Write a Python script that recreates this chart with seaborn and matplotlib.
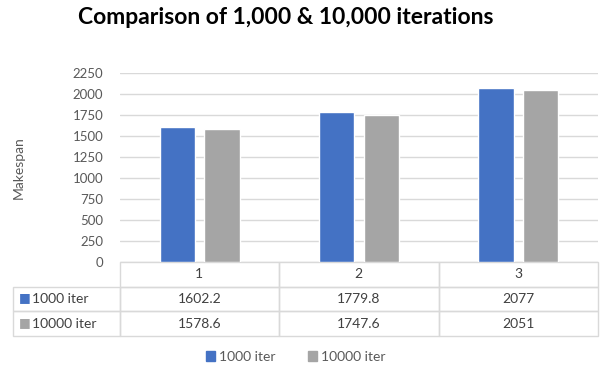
import matplotlib
matplotlib.use("Agg")
import pandas as pd
import seaborn as sns
from matplotlib import pyplot as plt
from matplotlib.patches import Patch
from matplotlib.table import Table

# data
runs = ["1", "2", "3"]
series = ["1000 iter", "10000 iter"]
iter_1000 = [1602.2, 1779.8, 2077]
iter_10000 = [1578.6, 1747.6, 2051]
yticks = [0, 250, 500, 750, 1000, 1250, 1500, 1750, 2000, 2250]

colors = ["#4472C4", "#A5A5A5"]
grid_c = "#D9D9D9"
text_c = "#595959"

sns.set_theme(style="white")
plt.rcParams["font.family"] = ["Lato", "DejaVu Sans"]

df = pd.DataFrame({
    "run": runs * 2,
    "series": [series[0]] * 3 + [series[1]] * 3,
    "makespan": iter_1000 + iter_10000,
})

fig = plt.figure(figsize=(6.01, 3.71), dpi=100)
ax = fig.add_axes([120 / 601, 1 - 262 / 371, 478 / 601, 189 / 371])

sns.barplot(data=df, x="run", y="makespan", hue="series", palette=colors,
            width=0.56, gap=0.21, legend=False, ax=ax, saturation=1)

ax.set_ylim(0, 2250)
ax.set_xlim(-0.5, 2.5)
ax.set_yticks(yticks)
ax.set_yticklabels([str(t) for t in yticks], color=text_c, fontsize=9.5)
ax.tick_params(axis="y", length=0, pad=12)
ax.set_xticks([])
ax.set_xlabel("")
ax.set_ylabel("Makespan", color=text_c, fontsize=10)
ax.yaxis.set_label_coords(-0.2, 0.5)
ax.grid(axis="y", color=grid_c, linewidth=1)
ax.set_axisbelow(True)
for s in ax.spines.values():
    s.set_visible(False)

# data table under the plot
tb = Table(ax, bbox=[-107 / 478, -74 / 189, 585 / 478, 74 / 189])
col_w = [107, 160, 160, 160]
rows = [[""] + runs,
        [series[0]] + [f"{v:g}" for v in iter_1000],
        [series[1]] + [f"{v:g}" for v in iter_10000]]
for r, row in enumerate(rows):
    for c, txt in enumerate(row):
        cell = tb.add_cell(r, c, col_w[c], 1, text=txt,
                           loc="left" if c == 0 else "center",
                           edgecolor=grid_c, facecolor="none")
        cell.get_text().set_color("#404040")
        cell.set_linewidth(1)
        if c == 0:
            cell.PAD = 0.18
        if r == 0 and c == 0:
            cell.visible_edges = ""
tb.auto_set_font_size(False)
tb.set_fontsize(10)
ax.add_table(tb)

# colored squares in the row labels
for i, col in enumerate(colors):
    ax.text(-0.5 - 102 / 160, -(287 - 262 + 10.5 + 24.5 * i) / 189 * 2250, "\u25A0",
            color=col, fontsize=9, va="center", ha="left", clip_on=False,
            transform=ax.transData)

fig.legend(handles=[Patch(color=c, label=l) for c, l in zip(colors, series)],
           loc="center", bbox_to_anchor=(0.492, 1 - 357 / 371), ncol=2,
           frameon=False, fontsize=10, handlelength=0.65, handleheight=0.65,
           columnspacing=2.3, handletextpad=0.3, labelcolor=text_c)

fig.text(0.475, 1 - 18 / 371, "Comparison of 1,000 & 10,000 iterations",
         ha="center", va="center", fontsize=16.5, fontweight="bold", color="black")

fig.savefig("out.png", dpi=100)
